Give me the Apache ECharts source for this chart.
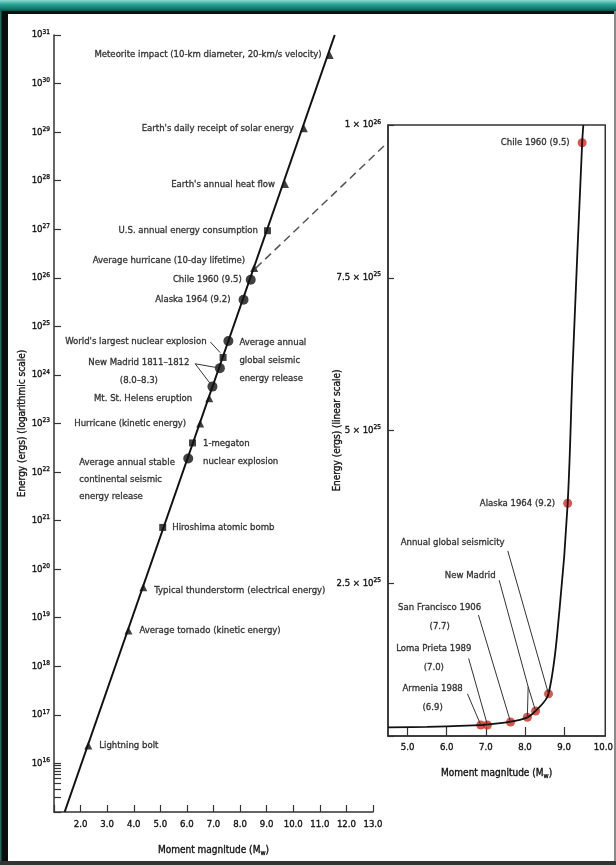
<!DOCTYPE html>
<html><head><meta charset="utf-8">
<script src="https://cdn.jsdelivr.net/npm/echarts@6/dist/echarts.min.js"></script>
<style>html,body{margin:0;padding:0;background:#fff}#c{width:616px;height:865px}</style>
</head><body><div id="c"></div>
<script>
// ---------- DATA ----------
// Left panel: energy (log scale) vs moment magnitude
const logDecades = [15,16,17,18,19,20,21,22,23,24,25,26,27,28,29,30,31];
const energyLineMag = [1.40, 11.56];
const energyLineLogE = [15.0, 31.0];
const eventNames = [
  'Meteorite impact (10-km diameter, 20-km/s velocity)',
  "Earth's daily receipt of solar energy",
  "Earth's annual heat flow",
  'U.S. annual energy consumption',
  'Average hurricane (10-day lifetime)',
  'Chile 1960 (9.5)',
  'Alaska 1964 (9.2)',
  'Average annual\nglobal seismic\nenergy release',
  "World's largest nuclear explosion",
  'New Madrid 1811\u20131812\n(8.0\u20138.3)',
  '',
  'Mt. St. Helens eruption',
  'Hurricane (kinetic energy)',
  '1-megaton\nnuclear explosion',
  'Average annual stable\ncontinental seismic\nenergy release',
  'Hiroshima atomic bomb',
  'Typical thunderstorm (electrical energy)',
  'Average tornado (kinetic energy)',
  'Lightning bolt'
];
const eventMag  = [11.37,10.40,9.69,9.03,8.53,8.40,8.13,7.56,7.36,7.24,6.96,6.84,6.50,6.21,6.05,5.09,4.36,3.80,2.29];
const eventLogE = [30.59,29.08,27.93,26.97,26.20,25.96,25.55,24.70,24.36,24.14,23.76,23.52,23.00,22.60,22.28,20.86,19.63,18.74,16.37];
const eventKind = ['triangle','triangle','triangle','rect','triangle','circle','circle','circle','rect','circle','circle','triangle','triangle','rect','circle','rect','triangle','triangle','triangle'];
// leader lines in the left panel (magnitude, log energy)
const leftLeaders = [
  [[6.88,24.68],[7.25,24.46]],
  [[6.31,24.23],[7.14,24.15]],
  [[6.31,24.23],[6.88,23.82]]
];

// Inset: energy (linear scale) vs moment magnitude
const insetCurveMag = [4.5, 5.5, 6.5, 6.9, 7.0, 7.6, 8.06, 8.27, 8.6, 8.88, 9.09, 9.22, 9.46, 9.49];
const insetCurveE   = [1.4e24, 1.5e24, 1.7e24, 1.8e24, 1.85e24, 2.3e24, 3.06e24, 4.1e24, 6.9e24, 2.06e25, 3.81e25, 6.1e25, 9.71e25, 1e26];
const quakeNames = ['Armenia 1988 (6.9)','Loma Prieta 1989 (7.0)','San Francisco 1906 (7.7)','New Madrid','New Madrid','Annual global seismicity','Alaska 1964 (9.2)','Chile 1960 (9.5)'];
const quakeMag = [6.87, 7.04, 7.63, 8.06, 8.27, 8.60, 9.09, 9.46];
const quakeE   = [1.8e24, 1.8e24, 2.3e24, 3.06e24, 4.1e24, 6.9e24, 3.81e25, 9.71e25];
const insetNoteText = ['Annual global seismicity','New Madrid','San Francisco 1906\n(7.7)','Loma Prieta 1989\n(7.0)','Armenia 1988\n(6.9)'];
const insetNoteMag  = [6.15, 6.60, 5.82, 5.67, 5.64];
const insetNoteE    = [3.16e25, 2.63e25, 1.95e25, 1.28e25, 6.2e24];
const insetLeaders = [
  [[7.56,3.03e25],[8.60,6.9e24]],
  [[7.34,2.55e25],[8.08,8.07e24]],
  [[8.08,8.07e24],[8.06,3.06e24]],
  [[8.08,8.07e24],[8.27,4.1e24]],
  [[6.81,1.98e25],[7.63,2.3e24]],
  [[6.56,1.27e25],[7.04,1.8e24]],
  [[6.53,6.9e24],[6.87,1.8e24]]
];
// dashed connector: left panel point -> inset point
const connectFrom = [8.59, 26.20];
const connectTo = [4.5, 9.72e25];

// ---------- STYLE ----------
const FONT = '"Liberation Sans Narrow","DejaVu Sans Condensed","Liberation Sans",sans-serif';
const TXT = '#141414';
const AX = '#333333';
const FS = 9.5;
const BOLDEN = {textBorderColor:TXT, textBorderWidth:0.35};
const leftLabelStyle = [
  {position:'left', distance:4},
  {position:'left', distance:6},
  {position:'left', distance:6},
  {position:'left', distance:6},
  {position:'left', distance:5, offset:[0,-8]},
  {position:'left', distance:4},
  {position:'left', distance:8},
  {position:'right', distance:6, offset:[0,20], lineHeight:18},
  {position:'left', distance:13, offset:[0,-16]},
  {position:'inside', align:'center', offset:[-81,3], lineHeight:18},
  {show:false},
  {position:'left', distance:13},
  {position:'left', distance:10},
  {position:'right', distance:7, offset:[0,10], lineHeight:18},
  {position:'inside', align:'left', offset:[-109,21], lineHeight:17},
  {position:'right', distance:6},
  {position:'right', distance:7, offset:[0,3]},
  {position:'right', distance:7},
  {position:'right', distance:7}
];
const eventSize = {triangle:[8,8], rect:[7,7], circle:[10,10]};

const supRich = {
  b:Object.assign({fontSize:9.5, color:TXT, fontFamily:FONT, lineHeight:13}, BOLDEN),
  s:Object.assign({fontSize:6.5, color:TXT, fontFamily:FONT, verticalAlign:'top', lineHeight:7}, BOLDEN)
};
const nameRich = {
  n:Object.assign({fontSize:10, color:TXT, fontFamily:FONT, lineHeight:14}, BOLDEN),
  w:Object.assign({fontSize:7, color:TXT, fontFamily:FONT, verticalAlign:'bottom', lineHeight:9}, BOLDEN)
};
const decadeVal = d => Number('1e' + d) * (d === 31 ? 0.9999 : 1);

const eventData = eventNames.map((n,i)=>{
  const st = leftLabelStyle[i];
  return {
    name:n,
    value:[eventMag[i], Math.pow(10, eventLogE[i])],
    symbol:eventKind[i],
    symbolSize:eventSize[eventKind[i]],
    label: Object.assign({show:true, formatter:n}, st)
  };
});

const chart = echarts.init(document.getElementById('c'), null, {renderer:'canvas'});
const option = {
  animation:false,
  backgroundColor:'#ffffff',
  textStyle:{fontFamily:FONT},
  grid:[
    {left:54, top:35, width:319, height:777},
    {left:388, top:125, width:219, height:611, show:true, borderColor:AX, borderWidth:1.5, backgroundColor:'transparent'}
  ],
  xAxis:[
    {gridIndex:0, type:'value', min:1, max:13, interval:1,
     axisLine:{lineStyle:{color:AX, width:1.5}},
     axisTick:{inside:true, length:7, lineStyle:{color:AX, width:1.2}},
     axisLabel:Object.assign({formatter:v=> v===1?'':v.toFixed(1), fontSize:9.5, color:TXT, margin:8, fontFamily:FONT}, BOLDEN),
     splitLine:{show:false},
     name:'{n|Moment magnitude (M}{w|w}{n|)}', nameLocation:'middle', nameGap:31, nameMoveOverlap:false,
     nameTextStyle:{rich:nameRich}},
    {gridIndex:1, type:'value', min:4.5, max:10.05,
     axisLine:{lineStyle:{color:AX, width:1.5}},
     axisTick:{inside:true, length:9, customValues:[5,6,7,8,9], lineStyle:{color:AX, width:1.2}},
     axisLabel:Object.assign({customValues:[5,6,7,8,9,10], formatter:v=>v.toFixed(1), fontSize:9.5, color:TXT, margin:7, fontFamily:FONT}, BOLDEN),
     splitLine:{show:false},
     name:'{n|Moment magnitude (M}{w|w}{n|)}', nameLocation:'middle', nameGap:30, nameMoveOverlap:false,
     nameTextStyle:{rich:nameRich}}
  ],
  yAxis:[
    {gridIndex:0, type:'log', logBase:10, min:1e15, max:1e31, splitNumber:16,
     axisLine:{lineStyle:{color:AX, width:1.5}},
     axisTick:{inside:true, length:7, lineStyle:{color:AX, width:1.2},
       customValues: logDecades.map(decadeVal).concat([2,3,4,5,6,7,8,9].map(k=>k*1e15))},
     axisLabel:{customValues: logDecades.slice(1).map(decadeVal),
       formatter:v=>'{b|10}{s|'+Math.round(Math.log10(v))+'}', margin:4, rich:supRich},
     splitLine:{show:false},
     name:'Energy (ergs) (logarithmic scale)', nameLocation:'middle', nameGap:27, nameMoveOverlap:false,
     nameTextStyle:Object.assign({fontSize:10, color:TXT, fontFamily:FONT}, BOLDEN)},
    {gridIndex:1, type:'value', min:0, max:1e26, interval:2.5e25,
     axisLine:{lineStyle:{color:AX, width:1.5}},
     axisTick:{inside:true, length:6, lineStyle:{color:AX, width:1.2}},
     axisLabel:{margin:7, rich:supRich, formatter:v=>{
        if (v===0) return '';
        const e = Math.floor(Math.log10(v)+1e-9);
        const m = +(v/Math.pow(10,e)).toFixed(2);
        return '{b|'+m+' \u00d7 10}{s|'+e+'}';
     }},
     splitLine:{show:false},
     name:'Energy (ergs) (linear scale)', nameLocation:'middle', nameGap:46, nameMoveOverlap:false,
     nameTextStyle:Object.assign({fontSize:10, color:TXT, fontFamily:FONT}, BOLDEN)}
  ],
  series:[
    {type:'line', xAxisIndex:0, yAxisIndex:0, symbol:'none', silent:true,
     lineStyle:{color:'#111', width:2},
     data: energyLineMag.map((m,i)=>[m, Math.pow(10, energyLineLogE[i])])},
    {type:'scatter', xAxisIndex:0, yAxisIndex:0, silent:true,
     itemStyle:{color:'#111'},
     label:Object.assign({color:TXT, fontSize:FS, fontFamily:FONT}, BOLDEN),
     data:eventData,
     markLine:{silent:true, symbol:['none','none'], label:{show:false},
       lineStyle:{color:'#333', width:1, type:'solid'},
       data: leftLeaders.map(seg=>[{coord:[seg[0][0], Math.pow(10,seg[0][1])]},{coord:[seg[1][0], Math.pow(10,seg[1][1])]}])}
    },
    {type:'line', xAxisIndex:1, yAxisIndex:1, symbol:'none', smooth:0.35, silent:true,
     lineStyle:{color:'#111', width:1.8},
     data: insetCurveMag.map((m,i)=>[m, insetCurveE[i]])},
    {type:'scatter', xAxisIndex:1, yAxisIndex:1, silent:true, symbolSize:9,
     itemStyle:{color:'#d42a1e'},
     data: quakeNames.map((n,i)=>({name:n, value:[quakeMag[i], quakeE[i]],
        label:Object.assign({show: i>=6, position:'left', distance:8, formatter:n, color:TXT, fontSize:FS, fontFamily:FONT}, BOLDEN)}))},
    {type:'scatter', xAxisIndex:1, yAxisIndex:1, silent:true, symbolSize:0,
     label:Object.assign({show:true, position:'inside', align:'center', verticalAlign:'middle', lineHeight:19, color:TXT, fontSize:FS, fontFamily:FONT,
       formatter:p=>p.name}, BOLDEN),
     data: insetNoteText.map((t,i)=>({name:t, value:[insetNoteMag[i], insetNoteE[i]]})),
     markLine:{silent:true, symbol:['none','none'], label:{show:false},
       lineStyle:{color:'#333', width:1, type:'solid'},
       data: insetLeaders.map(seg=>[{coord:seg[0]},{coord:seg[1]}])}
    }
  ],
  graphic:[
    {type:'rect', id:'topbar', shape:{x:0,y:0,width:616,height:12}, silent:true,
     style:{fill:new echarts.graphic.LinearGradient(0,0,0,1,[
       {offset:0,color:'#8fdcd3'},{offset:0.35,color:'#2aa596'},{offset:0.75,color:'#0f7468'},{offset:1,color:'#0b3d38'}])}},
    {type:'rect', id:'topblack', shape:{x:0,y:11,width:616,height:3}, silent:true, style:{fill:'#101010'}},
    {type:'rect', id:'leftbar', shape:{x:0,y:11,width:8,height:854}, silent:true, style:{fill:'#0c0c0c'}},
    {type:'rect', id:'lefttint', shape:{x:0,y:11,width:1.5,height:854}, silent:true, style:{fill:'#1f6a62'}},
    {type:'rect', id:'rightbar', shape:{x:614,y:11,width:2,height:854}, silent:true, style:{fill:'#8a8a8a'}},
    {type:'rect', id:'bottombar', shape:{x:0,y:861,width:616,height:4}, silent:true, style:{fill:'#333333'}}
  ]
};
chart.setOption(option);
const p1 = chart.convertToPixel({gridIndex:0}, [connectFrom[0], Math.pow(10, connectFrom[1])]);
const p2 = chart.convertToPixel({gridIndex:1}, connectTo);
chart.setOption({graphic:[
  {type:'line', id:'connector', silent:true, shape:{x1:p1[0], y1:p1[1], x2:p2[0], y2:p2[1]},
   style:{stroke:'#555', lineWidth:1.5, lineDash:[8,5]}}
]});
</script></body></html>
